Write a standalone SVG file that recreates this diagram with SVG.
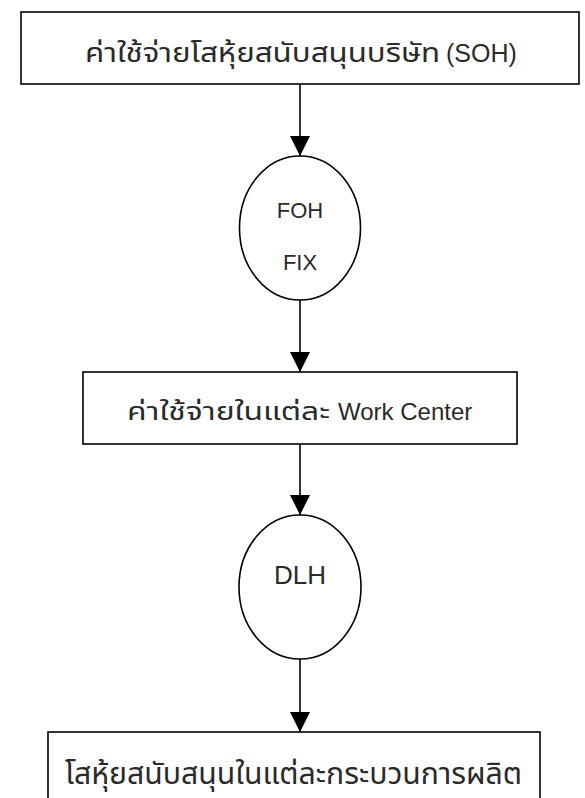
<svg xmlns="http://www.w3.org/2000/svg" width="585" height="798" viewBox="0 0 585 798">
<defs>
<style>
.box{fill:#fff;stroke:#000;stroke-width:1.6}
.ell{fill:#fff;stroke:#000;stroke-width:1.6}
.edge{stroke:#000;stroke-width:1.6;fill:none}
.t{font-family:"Liberation Sans","Noto Sans Thai","Noto Sans Thai Looped",sans-serif;fill:#2a2a2a}
.c{text-anchor:middle}
</style>
<marker id="arr" markerWidth="20" markerHeight="20" refX="20" refY="10" orient="auto" markerUnits="userSpaceOnUse" viewBox="0 0 20 20">
<path d="M0,0 L20,10 L0,20 Z" fill="#000"/>
</marker>
</defs>
<rect width="585" height="798" fill="#fff"/>
<g id="connectors">
<line class="edge" x1="300" y1="84" x2="300" y2="156" marker-end="url(#arr)"/>
<line class="edge" x1="300" y1="300" x2="300" y2="372" marker-end="url(#arr)"/>
<line class="edge" x1="300" y1="444" x2="300" y2="515" marker-end="url(#arr)"/>
<line class="edge" x1="300" y1="659" x2="300" y2="732" marker-end="url(#arr)"/>
</g>
<g id="soh">
<rect class="box" x="21" y="12" width="558" height="72"/>
<text class="t" x="85" y="62" font-size="26" textLength="355" lengthAdjust="spacingAndGlyphs">ค่าใช้จ่ายโสหุ้ยสนับสนุนบริษัท</text>
<text class="t" x="446" y="62" font-size="25">(SOH)</text>
</g>
<g id="foh">
<ellipse class="ell" cx="300" cy="228" rx="60.5" ry="72"/>
<text class="t c" x="300" y="218" font-size="22">FOH</text>
<text class="t c" x="300" y="270" font-size="22">FIX</text>
</g>
<g id="workcenter">
<rect class="box" x="83" y="372" width="434" height="72"/>
<text class="t" x="127" y="420" font-size="25" textLength="203" lengthAdjust="spacingAndGlyphs">ค่าใช้จ่ายในแต่ละ</text>
<text class="t" x="338" y="420" font-size="24">Work Center</text>
</g>
<g id="dlh">
<ellipse class="ell" cx="300" cy="587" rx="61" ry="72"/>
<text class="t c" x="300" y="584" font-size="26">DLH</text>
</g>
<g id="process">
<rect class="box" x="48" y="732" width="492" height="80"/>
<text class="t" x="65" y="784" font-size="30" textLength="457" lengthAdjust="spacingAndGlyphs">โสหุ้ยสนับสนุนในแต่ละกระบวนการผลิต</text>
</g>
</svg>
